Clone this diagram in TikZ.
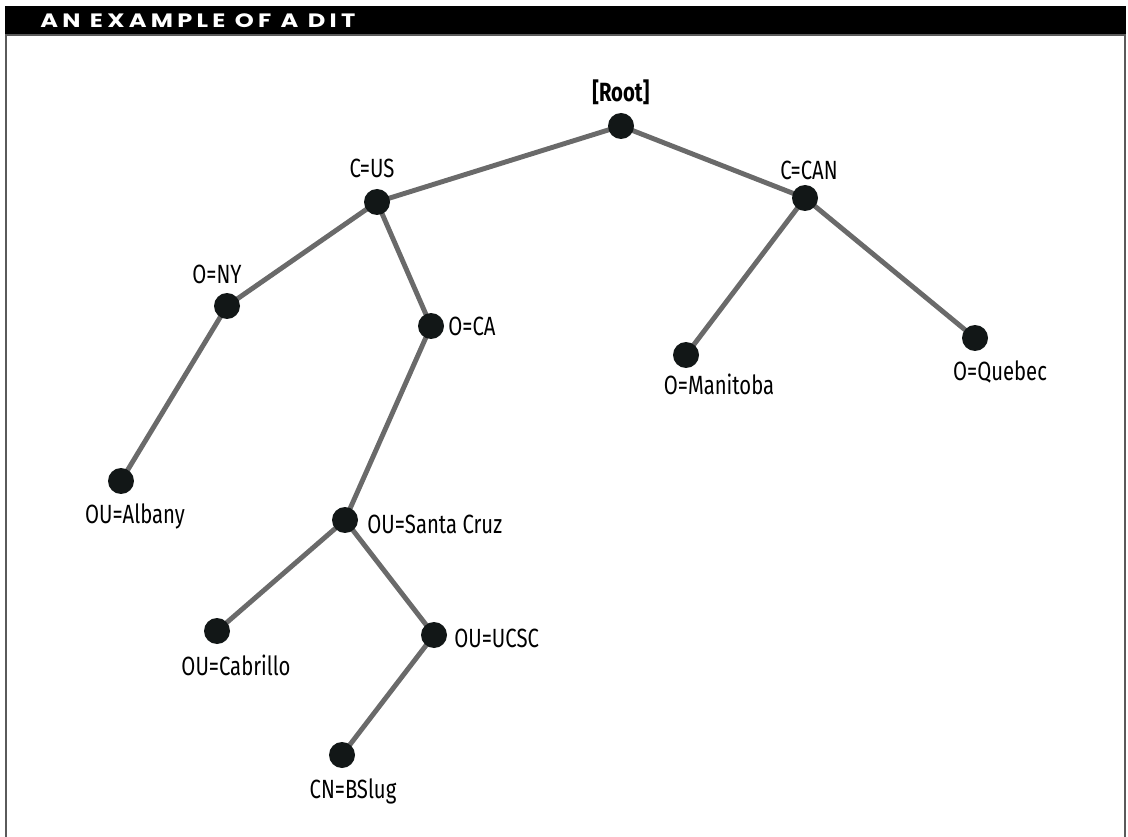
\documentclass[tikz,border=0pt]{standalone}
\usepackage{fontspec}
\setmainfont{Fira Sans}[FakeStretch=0.77]
\newfontfamily\headfont{Poppins}[LetterSpace=22,FakeStretch=1.25]
\usepackage{tikz}
\usetikzlibrary{positioning, backgrounds}
\definecolor{edgegray}{HTML}{6A6A6A}
\definecolor{dotblack}{HTML}{121717}
\definecolor{framegray}{HTML}{5A5A5A}

\begin{document}
\begin{tikzpicture}[
  x=0.02cm, y=-0.02cm,
  font=\fontsize{15}{17}\selectfont,
  dot/.style={circle,fill=dotblack,inner sep=0pt,minimum size=0.52cm},
  lbl/.style={inner sep=0pt,anchor=base},
  lblr/.style={inner sep=0pt,anchor=base west},
  edge/.style={draw=edgegray,line width=2.8pt}
]
\useasboundingbox (0,0) rectangle (1128,837);
% frame and title bar
\fill[black] (5,6) rectangle (1126,35);
\draw[framegray,line width=1.5pt] (6,35) -- (6,837);
\draw[framegray,line width=1.5pt] (1125,35) -- (1125,837);
\draw[framegray,line width=1.2pt] (5,35) -- (1126,35);
\node[inner sep=0pt,anchor=base west,text=white] (title) at (40,28)
  {\headfont\fontsize{11}{13}\selectfont\bfseries AN EXAMPLE OF A DIT};

% tree nodes
\node[dot] (root) at (621,126) {};
\node[dot] (us) at (377,202) {};
\node[dot] (can) at (805,198) {};
\node[dot] (ny) at (227,306) {};
\node[dot] (ca) at (431,326) {};
\node[dot] (manitoba) at (686,355) {};
\node[dot] (quebec) at (975,338) {};
\node[dot] (albany) at (121,481) {};
\node[dot] (santacruz) at (345,520) {};
\node[dot] (cabrillo) at (217,631) {};
\node[dot] (ucsc) at (434,635) {};
\node[dot] (bslug) at (342,755) {};

% labels
\node[lbl] (rootlbl) at (621,102) {\bfseries [Root]};
\node[lbl] (uslbl) at (372,178) {C=US};
\node[lbl] (canlbl) at (809,180) {C=CAN};
\node[lbl] (nylbl) at (217,284) {O=NY};
\node[lblr] (calbl) at (448,336) {O=CA};
\node[lbl] (manitobalbl) at (719,395) {O=Manitoba};
\node[lbl] (quebeclbl) at (1000,380) {O=Quebec};
\node[lbl] (albanylbl) at (135,523) {OU=Albany};
\node[lblr] (santacruzlbl) at (367,533) {OU=Santa Cruz};
\node[lbl] (cabrillolbl) at (236,675) {OU=Cabrillo};
\node[lblr] (ucsclbl) at (454,647) {OU=UCSC};
\node[lbl] (bsluglbl) at (353,798) {CN=BSlug};

% connectors
\begin{scope}[on background layer]
\draw[edge] (root.center) -- (us.center);
\draw[edge] (root.center) -- (can.center);
\draw[edge] (us.center) -- (ny.center);
\draw[edge] (us.center) -- (ca.center);
\draw[edge] (ny.center) -- (albany.center);
\draw[edge] (ca.center) -- (santacruz.center);
\draw[edge] (santacruz.center) -- (cabrillo.center);
\draw[edge] (santacruz.center) -- (ucsc.center);
\draw[edge] (ucsc.center) -- (bslug.center);
\draw[edge] (can.center) -- (manitoba.center);
\draw[edge] (can.center) -- (quebec.center);
\end{scope}
\end{tikzpicture}
\end{document}
